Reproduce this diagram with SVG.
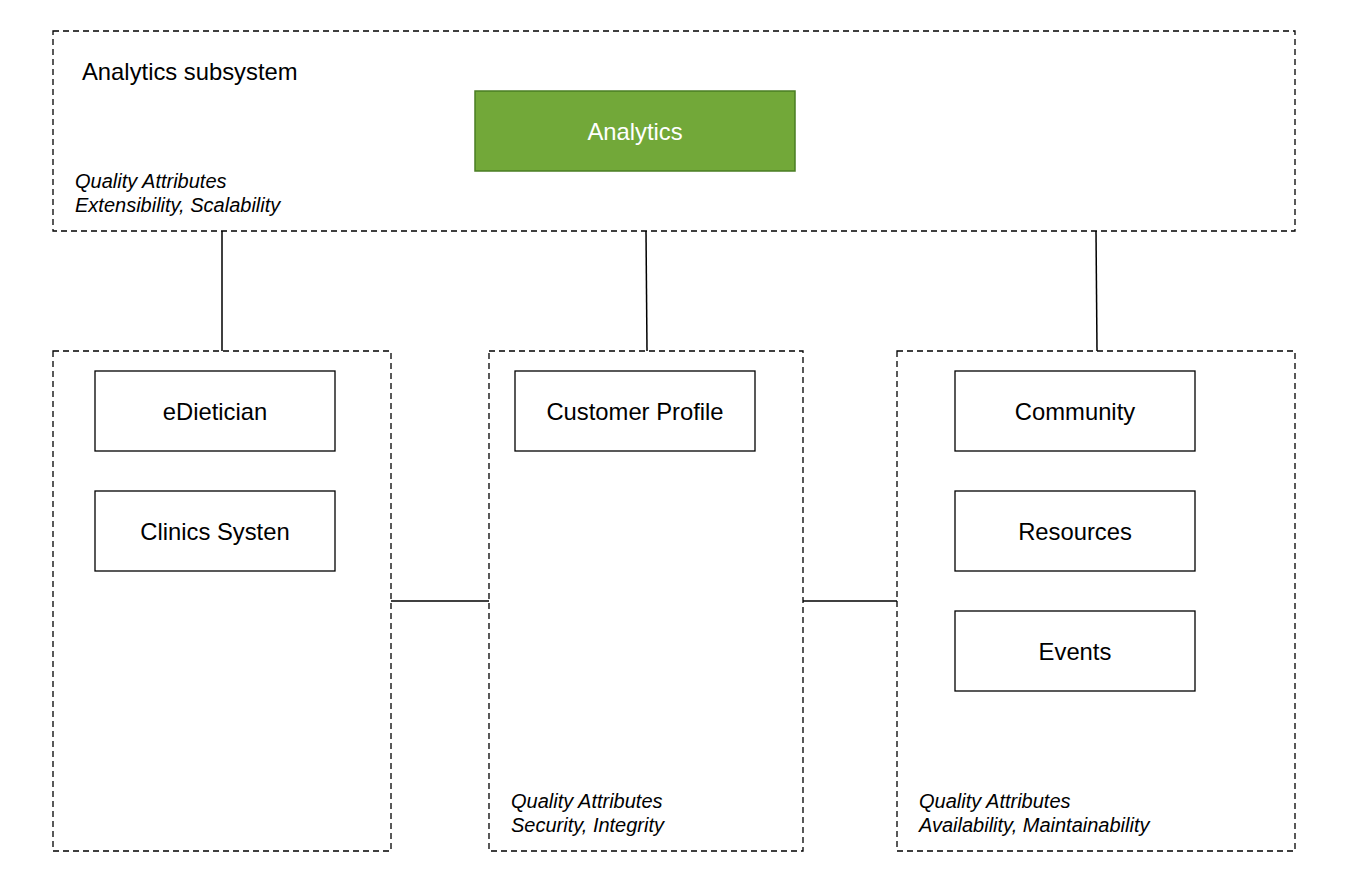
<svg xmlns="http://www.w3.org/2000/svg" width="1348" height="894" viewBox="0 0 1348 894">
<style>
.cont{fill:#fff;stroke:#000;stroke-width:1.3;stroke-dasharray:6 4}
.box{fill:#fff;stroke:#000;stroke-width:1.3}
.lbl{font-family:"Liberation Sans",Arial,sans-serif;font-size:23.8px;fill:#000;text-anchor:middle;dominant-baseline:central}
.qa{font-family:"Liberation Sans",Arial,sans-serif;font-size:20px;font-style:italic;fill:#000}
.edge{fill:none;stroke:#000;stroke-width:1.5}
</style>
<rect width="1348" height="894" fill="#fff"/>
<g id="analytics-subsystem">
<rect class="cont" x="53" y="31" width="1242" height="200"/>
<text x="82" y="80" font-family="Liberation Sans,Arial,sans-serif" font-size="23.8" fill="#000">Analytics subsystem</text>
<text class="qa" x="75" y="188">Quality Attributes</text>
<text class="qa" x="75" y="212">Extensibility, Scalability</text>
</g>
<g id="analytics">
<rect x="475" y="91" width="320" height="80" fill="#72a839" stroke="#4a7d23" stroke-width="1.5"/>
<text class="lbl" x="635" y="131" style="fill:#fff">Analytics</text>
</g>
<g id="left-container">
<rect class="cont" x="53" y="351" width="338" height="500"/>
</g>
<g id="middle-container">
<rect class="cont" x="489" y="351" width="314" height="500"/>
<text class="qa" x="511" y="808">Quality Attributes</text>
<text class="qa" x="511" y="832">Security, Integrity</text>
</g>
<g id="right-container">
<rect class="cont" x="897" y="351" width="398" height="500"/>
<text class="qa" x="919" y="808">Quality Attributes</text>
<text class="qa" x="919" y="832">Availability, Maintainability</text>
</g>
<g id="edietician">
<rect class="box" x="95" y="371" width="240" height="80"/>
<text class="lbl" x="215" y="411">eDietician</text>
</g>
<g id="clinics">
<rect class="box" x="95" y="491" width="240" height="80"/>
<text class="lbl" x="215" y="531">Clinics Systen</text>
</g>
<g id="customer-profile">
<rect class="box" x="515" y="371" width="240" height="80"/>
<text class="lbl" x="635" y="411">Customer Profile</text>
</g>
<g id="community">
<rect class="box" x="955" y="371" width="240" height="80"/>
<text class="lbl" x="1075" y="411">Community</text>
</g>
<g id="resources">
<rect class="box" x="955" y="491" width="240" height="80"/>
<text class="lbl" x="1075" y="531">Resources</text>
</g>
<g id="events">
<rect class="box" x="955" y="611" width="240" height="80"/>
<text class="lbl" x="1075" y="651">Events</text>
</g>
<g id="connectors">
<path class="edge" d="M222 231V351"/>
<path class="edge" d="M646 231L646.5 291L647 351"/>
<path class="edge" d="M1096 231L1096.5 291L1097 351"/>
<path class="edge" d="M391 601H489"/>
<path class="edge" d="M803 601H897"/>
</g>
</svg>
